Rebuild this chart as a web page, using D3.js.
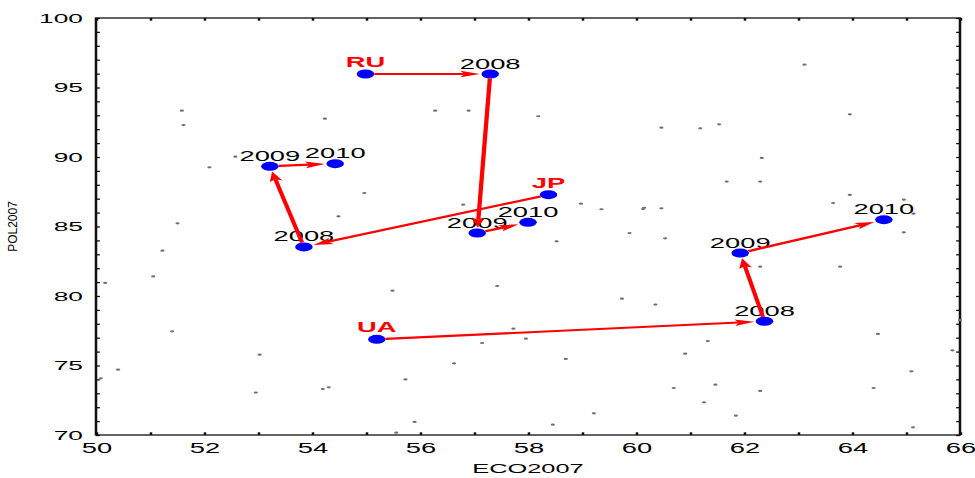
<!DOCTYPE html>
<html>
<head>
<meta charset="utf-8">
<script src="https://cdn.jsdelivr.net/npm/d3@7"></script>
<style>
  body { margin: 0; background: #fff; }
  svg { display: block; }
</style>
</head>
<body>
<svg></svg>
<script>
// the original picture is a chart that was squeezed then stretched sideways,
// so everything is drawn in a narrow space and scaled by stretchX
var width = 975;
var height = 478;
var stretchX = 1.95;

var xTicks = d3.range(50, 67);
var yTicks = d3.range(70, 101);

// background cloud of countries
var bgEco = [51.59, 51.62, 54.24, 56.28, 56.90, 52.58, 52.10, 54.97, 56.80, 54.49,
  51.51, 51.23, 51.06, 50.17, 55.49, 57.43, 51.41, 57.73, 57.96, 57.15,
  53.03, 56.63, 50.41, 50.09, 55.73, 54.20, 54.31, 52.96, 55.90, 55.56,
  63.12, 58.19, 60.47, 61.19, 61.54, 63.96, 62.33, 61.68, 62.30, 63.96,
  58.98, 59.36, 60.13, 60.15, 60.47, 63.65, 64.96, 65.14, 59.88, 60.54,
  58.53, 64.96, 62.30, 63.78, 59.74, 60.36, 66.00, 64.48, 61.33, 65.86,
  60.91, 58.70, 65.10, 60.70, 61.47, 62.30, 64.40, 61.26, 59.22, 61.85,
  58.46, 65.13];
var bgPol = [93.33, 92.30, 92.76, 93.33, 93.33, 90.02, 89.26, 87.41, 86.57, 85.73,
  85.23, 83.26, 81.41, 80.94, 80.38, 80.72, 77.46, 77.65, 76.93, 76.62,
  75.78, 75.16, 74.70, 74.08, 74.00, 73.31, 73.43, 73.05, 70.94, 70.17,
  96.64, 92.93, 92.11, 92.06, 92.35, 93.07, 89.93, 88.23, 88.23, 87.27,
  86.64, 86.24, 86.26, 86.35, 86.31, 86.69, 86.93, 85.92, 84.53, 84.15,
  83.93, 84.58, 82.11, 82.11, 79.81, 79.38, 78.27, 77.27, 76.76, 76.09,
  75.85, 75.47, 74.58, 73.38, 73.62, 73.17, 73.38, 72.35, 71.56, 71.39,
  70.74, 70.55];

// tracked countries: 2007 start, then 2008, 2009, 2010
var countries = ['RU', 'JP', 'UA'];
var years = ['2008', '2009', '2010'];
var ecoRU = [54.99, 57.30, 57.06, 58.00];
var polRU = [95.97, 95.97, 84.53, 85.30];
var ecoJP = [58.38, 53.85, 53.22, 54.43];
var polJP = [87.29, 83.53, 89.33, 89.52];
var ecoUA = [55.20, 62.38, 61.93, 64.59];
var polUA = [76.88, 78.18, 83.09, 85.49];

var tracks = [
  { name: countries[0], eco: ecoRU, pol: polRU },
  { name: countries[1], eco: ecoJP, pol: polJP },
  { name: countries[2], eco: ecoUA, pol: polUA }
];

var font = 'Liberation Sans, Arial, Helvetica, sans-serif';

var svg = d3.select('svg')
  .attr('width', width)
  .attr('height', height);

var g = svg.append('g').attr('transform', 'scale(' + stretchX + ',1)');

var x = d3.scaleLinear().domain([50, 66]).range([96 / stretchX, 960 / stretchX]);
var y = d3.scaleLinear().domain([70, 100]).range([435, 18]);

function styleAxis(sel, size) {
  sel.select('.domain').remove();
  sel.attr('font-family', font).attr('font-size', size);
  sel.selectAll('.tick line').attr('stroke', '#111').attr('stroke-width', 1.3);
  sel.selectAll('.tick text').attr('fill', '#000');
}

g.append('g')
  .attr('transform', 'translate(0,' + y(70) + ')')
  .call(d3.axisBottom(x).tickValues(xTicks)
    .tickFormat(d => d % 2 ? '' : d).tickSize(-2.7).tickPadding(8))
  .call(styleAxis, 14);

g.append('g')
  .attr('transform', 'translate(0,' + y(100) + ')')
  .call(d3.axisTop(x).tickValues(xTicks).tickFormat('').tickSize(-2.7))
  .call(styleAxis, 14);

g.append('g')
  .attr('transform', 'translate(' + x(50) + ',0)')
  .call(d3.axisLeft(y).tickValues(yTicks)
    .tickFormat(d => d % 5 ? '' : d).tickSize(-2).tickPadding(6.7))
  .call(styleAxis, 13.5);

g.append('g')
  .attr('transform', 'translate(' + x(66) + ',0)')
  .call(d3.axisRight(y).tickValues(yTicks).tickFormat('').tickSize(-2))
  .call(styleAxis, 13.5);

// frame
g.append('rect')
  .attr('x', x(50))
  .attr('y', y(100))
  .attr('width', x(66) - x(50))
  .attr('height', y(70) - y(100))
  .attr('fill', 'none')
  .attr('stroke', '#111')
  .attr('stroke-width', 1.3);

// grey background points
g.selectAll('.bg')
  .data(bgEco)
  .enter().append('circle')
  .attr('class', 'bg')
  .attr('cx', d => x(d))
  .attr('cy', (d, i) => y(bgPol[i]))
  .attr('r', 1.1)
  .attr('fill', '#707070');

var dotR = 4.5;

// blue dots
tracks.forEach(t => {
  g.selectAll(null)
    .data(t.eco)
    .enter().append('circle')
    .attr('cx', d => x(d))
    .attr('cy', (d, i) => y(t.pol[i]))
    .attr('r', dotR)
    .attr('fill', '#0000ff');
});

// labels
tracks.forEach(t => {
  g.append('text')
    .attr('x', x(t.eco[0]))
    .attr('y', y(t.pol[0]) - 7)
    .attr('text-anchor', 'middle')
    .attr('font-family', font)
    .attr('font-size', 14)
    .attr('font-weight', 'bold')
    .attr('fill', '#ff0000')
    .text(t.name);

  years.forEach((yr, i) => {
    g.append('text')
      .attr('x', x(t.eco[i + 1]))
      .attr('y', y(t.pol[i + 1]) - 5.5)
      .attr('text-anchor', 'middle')
      .attr('font-family', font)
      .attr('font-size', 14)
      .attr('fill', '#000')
      .text(yr);
  });
});

// arrows from one year to the next
var headLen = 10;
var headHalf = 3.3;

function arrowPoints(x1, y1, x2, y2) {
  var dx = x2 - x1, dy = y2 - y1;
  var len = Math.sqrt(dx * dx + dy * dy);
  var ux = dx / len, uy = dy / len;
  var nx = -uy, ny = ux;
  var sx = x1 + ux * dotR, sy = y1 + uy * dotR;
  var tx = x2 - ux * (dotR + 0.8), ty = y2 - uy * (dotR + 0.8);
  var bx = tx - ux * headLen, by = ty - uy * headLen;
  var mx = tx - ux * headLen * 0.8, my = ty - uy * headLen * 0.8;
  return {
    line: [[sx, sy], [mx, my]],
    head: [[tx, ty], [bx + nx * headHalf, by + ny * headHalf], [mx, my], [bx - nx * headHalf, by - ny * headHalf]]
  };
}

var lineGen = d3.line();

tracks.forEach(t => {
  for (var i = 0; i < t.eco.length - 1; i++) {
    var a = arrowPoints(x(t.eco[i]), y(t.pol[i]), x(t.eco[i + 1]), y(t.pol[i + 1]));
    g.append('path')
      .attr('d', lineGen(a.line))
      .attr('stroke', '#ff0000')
      .attr('stroke-width', 2.2)
      .attr('fill', 'none');
    g.append('path')
      .attr('d', lineGen(a.head) + 'Z')
      .attr('fill', '#ff0000');
  }
});

// axis titles
g.append('text')
  .attr('x', (x(50) + x(66)) / 2)
  .attr('y', 473)
  .attr('text-anchor', 'middle')
  .attr('font-family', font)
  .attr('font-size', 13)
  .attr('fill', '#000')
  .text('ECO2007');

svg.append('text')
  .attr('transform', 'translate(17,' + (y(70) + y(100)) / 2 + ') rotate(-90)')
  .attr('text-anchor', 'middle')
  .attr('font-family', font)
  .attr('font-size', 12)
  .attr('fill', '#000')
  .text('POL2007');
</script>
</body>
</html>
